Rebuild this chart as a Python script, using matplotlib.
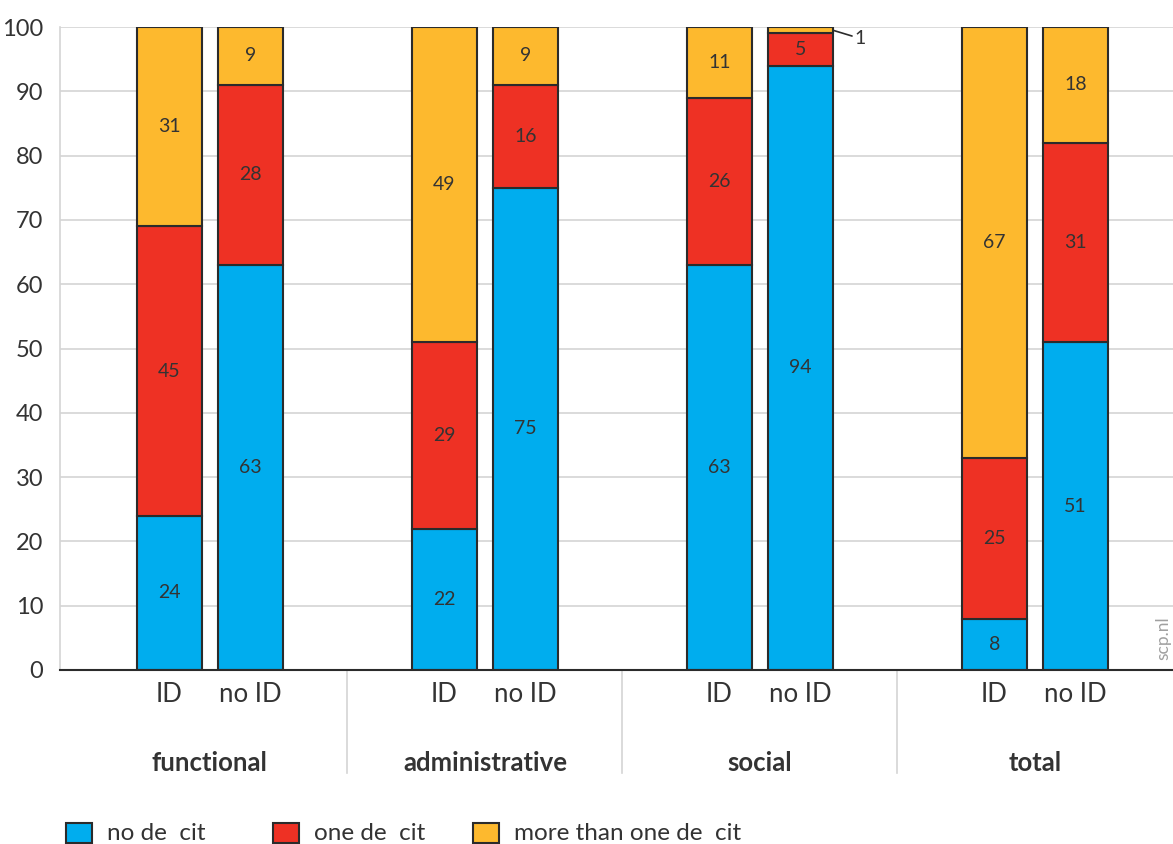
import matplotlib.pyplot as plt
import numpy as np

plt.rcParams['font.family'] = ['Lato', 'DejaVu Sans']

groups = ['functional', 'administrative', 'social', 'total']
bar_labels = ['ID', 'no ID']
series = ['no de  cit', 'one de  cit', 'more than one de  cit']
colors = ['#00adee', '#ee3124', '#fdb92e']

# [group][ID / no ID]
no_deficit = [[24, 63], [22, 75], [63, 94], [8, 51]]
one_deficit = [[45, 28], [29, 16], [26, 5], [25, 31]]
more_deficit = [[31, 9], [49, 9], [11, 1], [67, 18]]

W, H = 1173, 844
fig = plt.figure(figsize=(W / 100, H / 100), dpi=100)
ax = fig.add_axes([60 / W, (H - 670) / H, 1113 / W, (670 - 27) / H])

offsets = [-0.147, 0.147]
width = 0.236
txt = '#333333'

for g in range(len(groups)):
    for b in range(2):
        x = g + offsets[b]
        vals = [no_deficit[g][b], one_deficit[g][b], more_deficit[g][b]]
        bottom = 0
        for s, v in enumerate(vals):
            ax.bar(x, v, width, bottom=bottom, color=colors[s], edgecolor='#2b2b2b',
                   linewidth=1.5, zorder=3)
            if v >= 3:
                ax.text(x, bottom + v / 2, str(v), ha='center', va='center',
                        fontsize=14, color=txt, zorder=4)
            bottom += v
        ax.text(x, -1.8, bar_labels[b], ha='center', va='top', fontsize=18.5, color=txt)
    ax.text(g, -12.6, groups[g], ha='center', va='top', fontsize=18.5,
            fontweight='bold', color=txt)

# small segment label
ax.annotate(str(more_deficit[2][1]), xy=(2 + offsets[1] + width / 2, 99.5),
            xytext=(2 + offsets[1] + width / 2 + 0.08, 98.2),
            fontsize=14, color=txt, va='center',
            arrowprops=dict(arrowstyle='-', color='#2b2b2b', lw=1.2, shrinkA=0, shrinkB=0))

ax.set_xlim(-0.545, 3.502)
ax.set_ylim(0, 100)
ax.set_yticks(np.arange(0, 101, 10))
ax.tick_params(axis='y', length=0, labelsize=17, labelcolor=txt, pad=12)
ax.set_xticks([])
ax.grid(axis='y', color='#d4d4d4', linewidth=1.2, zorder=0)
for side in ['top', 'right']:
    ax.spines[side].set_visible(False)
ax.spines['left'].set_color('#d4d4d4')
ax.spines['left'].set_linewidth(1.2)
ax.spines['bottom'].set_color('#2b2b2b')
ax.spines['bottom'].set_linewidth(1.5)
ax.spines['bottom'].set_zorder(5)

# group separators
for g in range(len(groups) - 1):
    ax.plot([g + 0.5, g + 0.5], [0, -16], color='#d4d4d4', lw=1.2, clip_on=False)

ax.text(1163 / W, (H - 638) / H, 'scp.nl', transform=fig.transFigure, rotation=90,
        ha='center', va='center', fontsize=12.5, color='#a0a0a0')

# legend
lx = [66, 273, 473]
for i, name in enumerate(series):
    fig.patches.append(plt.Rectangle((lx[i] / W, (H - 843) / H), 26 / W, 20 / H,
                                     transform=fig.transFigure, facecolor=colors[i],
                                     edgecolor='#2b2b2b', linewidth=1.5))
    fig.text((lx[i] + 41) / W, (H - 833) / H, name, ha='left', va='center',
             fontsize=17.5, color=txt)

plt.savefig('out.png', dpi=100)
